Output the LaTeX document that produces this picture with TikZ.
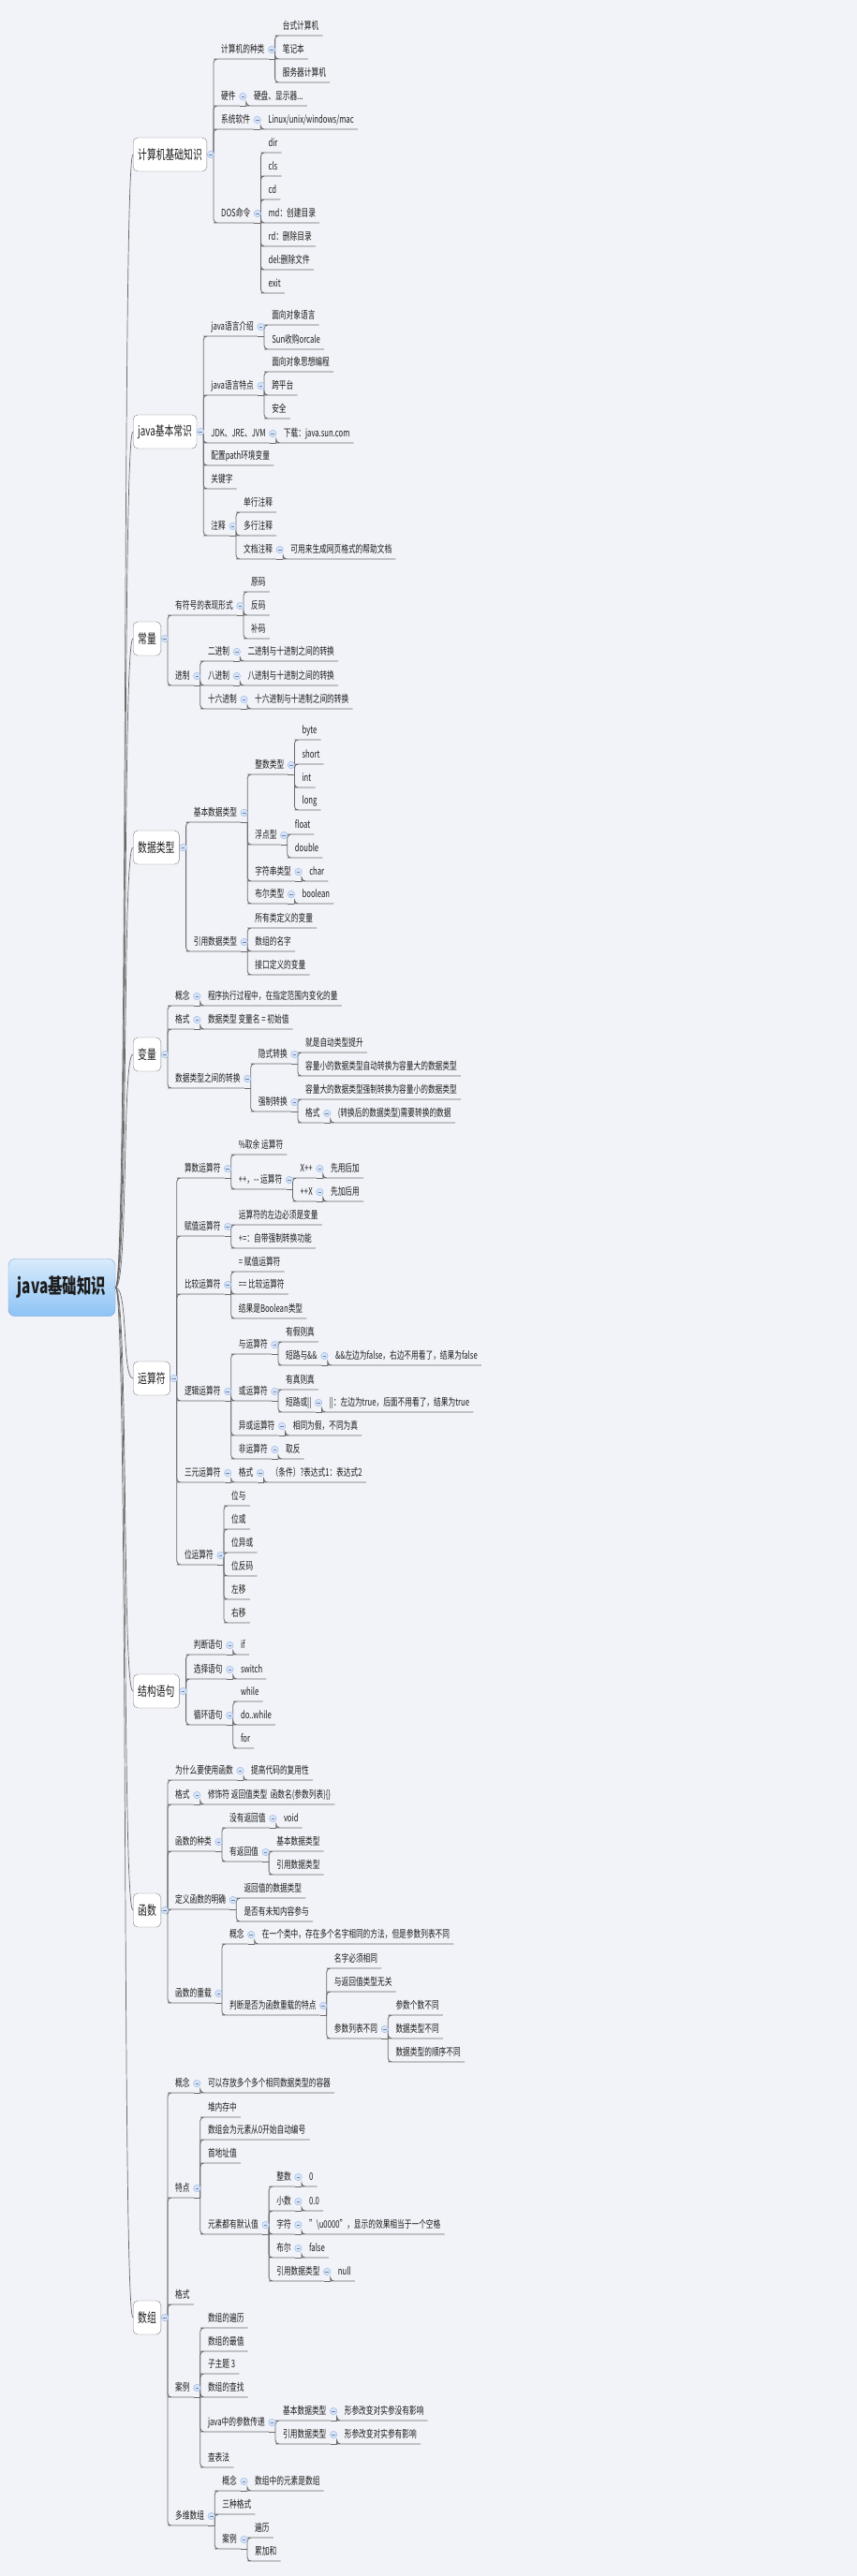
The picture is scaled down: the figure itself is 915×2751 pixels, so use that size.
\documentclass[tikz,border=0pt]{standalone}
\usepackage{fontspec}
\setmainfont{Noto Sans CJK SC}[FakeStretch=0.7]
\usetikzlibrary{calc}
\definecolor{paper}{RGB}{242,243,248}
\definecolor{ink}{RGB}{28,28,28}
\definecolor{wire}{RGB}{105,105,105}
\definecolor{foldfill}{RGB}{216,229,248}
\definecolor{foldline}{RGB}{158,186,230}
\definecolor{rootline}{RGB}{118,158,208}
\definecolor{roottop}{RGB}{216,235,252}
\definecolor{rootbot}{RGB}{140,195,245}
\tikzset{
  root/.style={draw=rootline, rounded corners=7pt, top color=roottop, bottom color=rootbot,
    minimum width=114pt, minimum height=61pt, font=\fontsize{22}{26}\selectfont\bfseries, text=ink},
  main/.style={draw=wire!85, fill=white, rounded corners=5pt, anchor=west, minimum height=36pt,
    inner xsep=5pt, font=\fontsize{14}{16}\selectfont, text=ink},
  sub/.style={anchor=south west, xshift=11pt, inner xsep=4pt, inner ysep=4pt,
    text height=9pt, text depth=2pt, font=\fontsize{11}{13}\selectfont, text=ink},
  fold/.style={circle, draw=foldline, fill=foldfill, minimum size=7.5pt, inner sep=0pt, line width=0.5pt,
    path picture={\draw[foldline!70!black, line width=0.6pt]
      ([xshift=-1.8pt]path picture bounding box.center) -- ([xshift=1.8pt]path picture bounding box.center);}},
  br/.style={to path={|- (\tikztotarget.south west) -- (\tikztotarget.south east)}},
  trunk/.style={to path={.. controls +(14,0) and +(-12,0) .. (\tikztotarget.west)}}
}
\begin{document}
\begin{tikzpicture}[x=1pt,y=-1pt]
\fill[paper] (0,0) rectangle (915,2751);
\useasboundingbox (0,0) rectangle (915,2751);

\node[root] (root) at (66,1375) {java基础知识};
\begin{scope}[every node/.style={main}]
    \node (comp) at (142,165) {计算机基础知识};
    \node (basic) at (142,461) {java基本常识};
    \node (const) at (142,682) {常量};
    \node (dtype) at (142,905) {数据类型};
    \node (var) at (142,1126) {变量};
    \node (oper) at (142,1472) {运算符};
    \node (ctrl) at (142,1806) {结构语句};
    \node (func) at (142,2040) {函数};
    \node (arr) at (142,2475) {数组};
\end{scope}

\begin{scope}[every node/.style={sub}]
    \node (kind) at (comp.east |- 0,63) {计算机的种类};
    \node (desk) at (kind.south east |- 0,38) {台式计算机};
    \node (laptop) at (kind.south east |- 0,63) {笔记本};
    \node (server) at (kind.south east |- 0,88) {服务器计算机};
    \node (hw) at (comp.east |- 0,113) {硬件};
    \node (hwx) at (hw.south east |- 0,113) {硬盘、显示器...};
    \node (os) at (comp.east |- 0,138) {系统软件};
    \node (osx) at (os.south east |- 0,138) {Linux/unix/windows/mac};
    \node (dos) at (comp.east |- 0,238) {DOS命令};
    \node (dir) at (dos.south east |- 0,163) {dir};
    \node (cls) at (dos.south east |- 0,188) {cls};
    \node (cd) at (dos.south east |- 0,213) {cd};
    \node (md) at (dos.south east |- 0,238) {md：创建目录};
    \node (rd) at (dos.south east |- 0,263) {rd：删除目录};
    \node (del) at (dos.south east |- 0,288) {del:删除文件};
    \node (exit) at (dos.south east |- 0,313) {exit};

    \node (intro) at (basic.east |- 0,359) {java语言介绍};
    \node (ooplang) at (intro.south east |- 0,347) {面向对象语言};
    \node (sun) at (intro.south east |- 0,373) {Sun收购orcale};
    \node (feat) at (basic.east |- 0,422) {java语言特点};
    \node (oothink) at (feat.south east |- 0,397) {面向对象思想编程};
    \node (cross) at (feat.south east |- 0,422) {跨平台};
    \node (safe) at (feat.south east |- 0,447) {安全};
    \node (jdk) at (basic.east |- 0,473) {JDK、JRE、JVM};
    \node (jdkx) at (jdk.south east |- 0,473) {下载：java.sun.com};
    \node (path) at (basic.east |- 0,497) {配置path环境变量};
    \node (kw) at (basic.east |- 0,522) {关键字};
    \node (cmt) at (basic.east |- 0,572) {注释};
    \node (cmt1) at (cmt.south east |- 0,547) {单行注释};
    \node (cmt2) at (cmt.south east |- 0,572) {多行注释};
    \node (cmt3) at (cmt.south east |- 0,597) {文档注释};
    \node (cmt3x) at (cmt3.south east |- 0,597) {可用来生成网页格式的帮助文档};

    \node (sign) at (const.east |- 0,657) {有符号的表现形式};
    \node (orig) at (sign.south east |- 0,632) {原码};
    \node (inv) at (sign.south east |- 0,657) {反码};
    \node (cmpl) at (sign.south east |- 0,682) {补码};
    \node (radix) at (const.east |- 0,732) {进制};
    \node (bin) at (radix.south east |- 0,706) {二进制};
    \node (binx) at (bin.south east |- 0,706) {二进制与十进制之间的转换};
    \node (oct) at (radix.south east |- 0,732) {八进制};
    \node (octx) at (oct.south east |- 0,732) {八进制与十进制之间的转换};
    \node (hex) at (radix.south east |- 0,757) {十六进制};
    \node (hexx) at (hex.south east |- 0,757) {十六进制与十进制之间的转换};

    \node (prim) at (dtype.east |- 0,878) {基本数据类型};
    \node (intt) at (prim.south east |- 0,827) {整数类型};
    \node (byte) at (intt.south east |- 0,790) {byte};
    \node (short) at (intt.south east |- 0,816) {short};
    \node (int) at (intt.south east |- 0,841) {int};
    \node (long) at (intt.south east |- 0,865) {long};
    \node (flt) at (prim.south east |- 0,902) {浮点型};
    \node (float) at (flt.south east |- 0,891) {float};
    \node (double) at (flt.south east |- 0,916) {double};
    \node (strt) at (prim.south east |- 0,941) {字符串类型};
    \node (char) at (strt.south east |- 0,941) {char};
    \node (boolt) at (prim.south east |- 0,965) {布尔类型};
    \node (boolean) at (boolt.south east |- 0,965) {boolean};
    \node (reft) at (dtype.east |- 0,1016) {引用数据类型};
    \node (refa) at (reft.south east |- 0,991) {所有类定义的变量};
    \node (refb) at (reft.south east |- 0,1016) {数组的名字};
    \node (refc) at (reft.south east |- 0,1041) {接口定义的变量};

    \node (vcpt) at (var.east |- 0,1074) {概念};
    \node (vcptx) at (vcpt.south east |- 0,1074) {程序执行过程中，在指定范围内变化的量};
    \node (vfmt) at (var.east |- 0,1099) {格式};
    \node (vfmtx) at (vfmt.south east |- 0,1099) {数据类型 变量名 = 初始值};
    \node (vconv) at (var.east |- 0,1162) {数据类型之间的转换};
    \node (vimp) at (vconv.south east |- 0,1136) {隐式转换};
    \node (vimp1) at (vimp.south east |- 0,1124) {就是自动类型提升};
    \node (vimp2) at (vimp.south east |- 0,1149) {容量小的数据类型自动转换为容量大的数据类型};
    \node (vexp) at (vconv.south east |- 0,1187) {强制转换};
    \node (vexp1) at (vexp.south east |- 0,1174) {容量大的数据类型强制转换为容量小的数据类型};
    \node (vexp2) at (vexp.south east |- 0,1199) {格式};
    \node (vexp2x) at (vexp2.south east |- 0,1199) {(转换后的数据类型)需要转换的数据};

    \node (arith) at (oper.east |- 0,1258) {算数运算符};
    \node (mod) at (arith.south east |- 0,1233) {\%取余 运算符};
    \node (inc) at (arith.south east |- 0,1270) {++，-{}- 运算符};
    \node (xpp) at (inc.south east |- 0,1258) {X++};
    \node (xppx) at (xpp.south east |- 0,1258) {先用后加};
    \node (ppx) at (inc.south east |- 0,1283) {++X};
    \node (ppxx) at (ppx.south east |- 0,1283) {先加后用};
    \node (asg) at (oper.east |- 0,1320) {赋值运算符};
    \node (asg1) at (asg.south east |- 0,1308) {运算符的左边必须是变量};
    \node (asg2) at (asg.south east |- 0,1333) {+=：自带强制转换功能};
    \node (cmp) at (oper.east |- 0,1382) {比较运算符};
    \node (cmp1) at (cmp.south east |- 0,1358) {= 赋值运算符};
    \node (cmp2) at (cmp.south east |- 0,1382) {== 比较运算符};
    \node (cmp3) at (cmp.south east |- 0,1408) {结果是Boolean类型};
    \node (logic) at (oper.east |- 0,1496) {逻辑运算符};
    \node (land) at (logic.south east |- 0,1446) {与运算符};
    \node (land1) at (land.south east |- 0,1433) {有假则真};
    \node (land2) at (land.south east |- 0,1458) {短路与\&\&};
    \node (land2x) at (land2.south east |- 0,1458) {\&\&左边为false，右边不用看了，结果为false};
    \node (lor) at (logic.south east |- 0,1496) {或运算符};
    \node (lor1) at (lor.south east |- 0,1484) {有真则真};
    \node (lor2) at (lor.south east |- 0,1508) {短路或||};
    \node (lor2x) at (lor2.south east |- 0,1508) {||：左边为true，后面不用看了，结果为true};
    \node (lxor) at (logic.south east |- 0,1533) {异或运算符};
    \node (lxorx) at (lxor.south east |- 0,1533) {相同为假，不同为真};
    \node (lnot) at (logic.south east |- 0,1558) {非运算符};
    \node (lnotx) at (lnot.south east |- 0,1558) {取反};
    \node (tern) at (oper.east |- 0,1583) {三元运算符};
    \node (ternf) at (tern.south east |- 0,1583) {格式};
    \node (ternx) at (ternf.south east |- 0,1583) {（条件）?表达式1：表达式2};
    \node (bit) at (oper.east |- 0,1671) {位运算符};
    \node (bit1) at (bit.south east |- 0,1608) {位与};
    \node (bit2) at (bit.south east |- 0,1633) {位或};
    \node (bit3) at (bit.south east |- 0,1658) {位异或};
    \node (bit4) at (bit.south east |- 0,1683) {位反码};
    \node (bit5) at (bit.south east |- 0,1708) {左移};
    \node (bit6) at (bit.south east |- 0,1733) {右移};

    \node (cif) at (ctrl.east |- 0,1767) {判断语句};
    \node (cifx) at (cif.south east |- 0,1767) {if};
    \node (csw) at (ctrl.east |- 0,1793) {选择语句};
    \node (cswx) at (csw.south east |- 0,1793) {switch};
    \node (cloop) at (ctrl.east |- 0,1842) {循环语句};
    \node (cl1) at (cloop.south east |- 0,1817) {while};
    \node (cl2) at (cloop.south east |- 0,1842) {do..while};
    \node (cl3) at (cloop.south east |- 0,1867) {for};

    \node (fwhy) at (func.east |- 0,1901) {为什么要使用函数};
    \node (fwhyx) at (fwhy.south east |- 0,1901) {提高代码的复用性};
    \node (ffmt) at (func.east |- 0,1927) {格式};
    \node (ffmtx) at (ffmt.south east |- 0,1927) {修饰符 返回值类型\ \ 函数名(参数列表)\{\}};
    \node (fkind) at (func.east |- 0,1977) {函数的种类};
    \node (fnone) at (fkind.south east |- 0,1952) {没有返回值};
    \node (fnonex) at (fnone.south east |- 0,1952) {void};
    \node (fret) at (fkind.south east |- 0,1988) {有返回值};
    \node (fret1) at (fret.south east |- 0,1977) {基本数据类型};
    \node (fret2) at (fret.south east |- 0,2002) {引用数据类型};
    \node (fdef) at (func.east |- 0,2039) {定义函数的明确};
    \node (fdef1) at (fdef.south east |- 0,2027) {返回值的数据类型};
    \node (fdef2) at (fdef.south east |- 0,2052) {是否有未知内容参与};
    \node (fovl) at (func.east |- 0,2139) {函数的重载};
    \node (fovc) at (fovl.south east |- 0,2076) {概念};
    \node (fovcx) at (fovc.south east |- 0,2076) {在一个类中，存在多个名字相同的方法，但是参数列表不同};
    \node (fovj) at (fovl.south east |- 0,2152) {判断是否为函数重载的特点};
    \node (fovj1) at (fovj.south east |- 0,2102) {名字必须相同};
    \node (fovj2) at (fovj.south east |- 0,2127) {与返回值类型无关};
    \node (fovj3) at (fovj.south east |- 0,2177) {参数列表不同};
    \node (fp1) at (fovj3.south east |- 0,2152) {参数个数不同};
    \node (fp2) at (fovj3.south east |- 0,2177) {数据类型不同};
    \node (fp3) at (fovj3.south east |- 0,2202) {数据类型的顺序不同};

    \node (acpt) at (arr.east |- 0,2235) {概念};
    \node (acptx) at (acpt.south east |- 0,2235) {可以存放多个多个相同数据类型的容器};
    \node (afeat) at (arr.east |- 0,2347) {特点};
    \node (af1) at (afeat.south east |- 0,2261) {堆内存中};
    \node (af2) at (afeat.south east |- 0,2285) {数组会为元素从0开始自动编号};
    \node (af3) at (afeat.south east |- 0,2310) {首地址值};
    \node (afd) at (afeat.south east |- 0,2386) {元素都有默认值};
    \node (d1) at (afd.south east |- 0,2335) {整数};
    \node (d1x) at (d1.south east |- 0,2335) {0};
    \node (d2) at (afd.south east |- 0,2361) {小数};
    \node (d2x) at (d2.south east |- 0,2361) {0.0};
    \node (d3) at (afd.south east |- 0,2386) {字符};
    \node (d3x) at (d3.south east |- 0,2386) {"\textbackslash u0000"，显示的效果相当于一个空格};
    \node (d4) at (afd.south east |- 0,2411) {布尔};
    \node (d4x) at (d4.south east |- 0,2411) {false};
    \node (d5) at (afd.south east |- 0,2436) {引用数据类型};
    \node (d5x) at (d5.south east |- 0,2436) {null};
    \node (afmt) at (arr.east |- 0,2461) {格式};
    \node (acase) at (arr.east |- 0,2560) {案例};
    \node (ac1) at (acase.south east |- 0,2486) {数组的遍历};
    \node (ac2) at (acase.south east |- 0,2511) {数组的最值};
    \node (ac3) at (acase.south east |- 0,2535) {子主题 3};
    \node (ac4) at (acase.south east |- 0,2560) {数组的查找};
    \node (ac5) at (acase.south east |- 0,2597) {java中的参数传递};
    \node (ac51) at (ac5.south east |- 0,2585) {基本数据类型};
    \node (ac51x) at (ac51.south east |- 0,2585) {形参改变对实参没有影响};
    \node (ac52) at (ac5.south east |- 0,2610) {引用数据类型};
    \node (ac52x) at (ac52.south east |- 0,2610) {形参改变对实参有影响};
    \node (ac6) at (acase.south east |- 0,2635) {查表法};
    \node (amul) at (arr.east |- 0,2697) {多维数组};
    \node (am1) at (amul.south east |- 0,2660) {概念};
    \node (am1x) at (am1.south east |- 0,2660) {数组中的元素是数组};
    \node (am2) at (amul.south east |- 0,2685) {三种格式};
    \node (am3) at (amul.south east |- 0,2722) {案例};
    \node (am31) at (am3.south east |- 0,2710) {遍历};
    \node (am32) at (am3.south east |- 0,2735) {累加和};
\end{scope}

\foreach \b in {comp,basic,const,dtype,var,oper,ctrl,func,arr}
    \draw[wire, line width=0.8pt] (\b.east) -- ++(7,0) coordinate (\b-s);
\foreach \p in {kind,hw,os,dos,intro,feat,jdk,cmt,cmt3,sign,radix,bin,oct,hex,prim,intt,flt,strt,boolt,reft,
        vcpt,vfmt,vconv,vimp,vexp,vexp2,arith,inc,xpp,ppx,asg,cmp,logic,land,land2,lor,lor2,lxor,lnot,tern,ternf,bit,
        cif,csw,cloop,fwhy,ffmt,fkind,fnone,fret,fdef,fovl,fovc,fovj,fovj3,
        acpt,afeat,afd,d1,d2,d3,d4,d5,acase,ac5,ac51,ac52,amul,am1,am3}
    \draw[wire, line width=0.8pt] (\p.south east) -- ++(7,0) coordinate (\p-s);

\begin{scope}[every edge/.style={draw=wire, line width=0.7pt, trunk}]
    \path (root.east) edge (comp) edge (basic) edge (const) edge (dtype) edge (var)
        edge (oper) edge (ctrl) edge (func) edge (arr);
\end{scope}

\begin{scope}[every edge/.style={draw=wire, line width=0.8pt, rounded corners=4pt, br}]
    \path (comp-s) edge (kind) edge (hw) edge (os) edge (dos);
    \path (kind-s) edge (desk) edge (laptop) edge (server);
    \path (hw-s) edge (hwx);
    \path (os-s) edge (osx);
    \path (dos-s) edge (dir) edge (cls) edge (cd) edge (md) edge (rd) edge (del) edge (exit);

    \path (basic-s) edge (intro) edge (feat) edge (jdk) edge (path) edge (kw) edge (cmt);
    \path (intro-s) edge (ooplang) edge (sun);
    \path (feat-s) edge (oothink) edge (cross) edge (safe);
    \path (jdk-s) edge (jdkx);
    \path (cmt-s) edge (cmt1) edge (cmt2) edge (cmt3);
    \path (cmt3-s) edge (cmt3x);

    \path (const-s) edge (sign) edge (radix);
    \path (sign-s) edge (orig) edge (inv) edge (cmpl);
    \path (radix-s) edge (bin) edge (oct) edge (hex);
    \path (bin-s) edge (binx);
    \path (oct-s) edge (octx);
    \path (hex-s) edge (hexx);

    \path (dtype-s) edge (prim) edge (reft);
    \path (prim-s) edge (intt) edge (flt) edge (strt) edge (boolt);
    \path (intt-s) edge (byte) edge (short) edge (int) edge (long);
    \path (flt-s) edge (float) edge (double);
    \path (strt-s) edge (char);
    \path (boolt-s) edge (boolean);
    \path (reft-s) edge (refa) edge (refb) edge (refc);

    \path (var-s) edge (vcpt) edge (vfmt) edge (vconv);
    \path (vcpt-s) edge (vcptx);
    \path (vfmt-s) edge (vfmtx);
    \path (vconv-s) edge (vimp) edge (vexp);
    \path (vimp-s) edge (vimp1) edge (vimp2);
    \path (vexp-s) edge (vexp1) edge (vexp2);
    \path (vexp2-s) edge (vexp2x);

    \path (oper-s) edge (arith) edge (asg) edge (cmp) edge (logic) edge (tern) edge (bit);
    \path (arith-s) edge (mod) edge (inc);
    \path (inc-s) edge (xpp) edge (ppx);
    \path (xpp-s) edge (xppx);
    \path (ppx-s) edge (ppxx);
    \path (asg-s) edge (asg1) edge (asg2);
    \path (cmp-s) edge (cmp1) edge (cmp2) edge (cmp3);
    \path (logic-s) edge (land) edge (lor) edge (lxor) edge (lnot);
    \path (land-s) edge (land1) edge (land2);
    \path (land2-s) edge (land2x);
    \path (lor-s) edge (lor1) edge (lor2);
    \path (lor2-s) edge (lor2x);
    \path (lxor-s) edge (lxorx);
    \path (lnot-s) edge (lnotx);
    \path (tern-s) edge (ternf);
    \path (ternf-s) edge (ternx);
    \path (bit-s) edge (bit1) edge (bit2) edge (bit3) edge (bit4) edge (bit5) edge (bit6);

    \path (ctrl-s) edge (cif) edge (csw) edge (cloop);
    \path (cif-s) edge (cifx);
    \path (csw-s) edge (cswx);
    \path (cloop-s) edge (cl1) edge (cl2) edge (cl3);

    \path (func-s) edge (fwhy) edge (ffmt) edge (fkind) edge (fdef) edge (fovl);
    \path (fwhy-s) edge (fwhyx);
    \path (ffmt-s) edge (ffmtx);
    \path (fkind-s) edge (fnone) edge (fret);
    \path (fnone-s) edge (fnonex);
    \path (fret-s) edge (fret1) edge (fret2);
    \path (fdef-s) edge (fdef1) edge (fdef2);
    \path (fovl-s) edge (fovc) edge (fovj);
    \path (fovc-s) edge (fovcx);
    \path (fovj-s) edge (fovj1) edge (fovj2) edge (fovj3);
    \path (fovj3-s) edge (fp1) edge (fp2) edge (fp3);

    \path (arr-s) edge (acpt) edge (afeat) edge (afmt) edge (acase) edge (amul);
    \path (acpt-s) edge (acptx);
    \path (afeat-s) edge (af1) edge (af2) edge (af3) edge (afd);
    \path (afd-s) edge (d1) edge (d2) edge (d3) edge (d4) edge (d5);
    \path (d1-s) edge (d1x);
    \path (d2-s) edge (d2x);
    \path (d3-s) edge (d3x);
    \path (d4-s) edge (d4x);
    \path (d5-s) edge (d5x);
    \path (acase-s) edge (ac1) edge (ac2) edge (ac3) edge (ac4) edge (ac5) edge (ac6);
    \path (ac5-s) edge (ac51) edge (ac52);
    \path (ac51-s) edge (ac51x);
    \path (ac52-s) edge (ac52x);
    \path (amul-s) edge (am1) edge (am2) edge (am3);
    \path (am1-s) edge (am1x);
    \path (am3-s) edge (am31) edge (am32);
\end{scope}

\foreach \b in {comp,basic,const,dtype,var,oper,ctrl,func,arr}
    \node[fold] at ($(\b.east)+(4,0)$) {};
\foreach \p in {kind,hw,os,dos,intro,feat,jdk,cmt,cmt3,sign,radix,bin,oct,hex,prim,intt,flt,strt,boolt,reft,
        vcpt,vfmt,vconv,vimp,vexp,vexp2,arith,inc,xpp,ppx,asg,cmp,logic,land,land2,lor,lor2,lxor,lnot,tern,ternf,bit,
        cif,csw,cloop,fwhy,ffmt,fkind,fnone,fret,fdef,fovl,fovc,fovj,fovj3,
        acpt,afeat,afd,d1,d2,d3,d4,d5,acase,ac5,ac51,ac52,amul,am1,am3}
    \node[fold] at ($(\p.south east)+(3.5,-10)$) {};
\end{tikzpicture}
\end{document}
